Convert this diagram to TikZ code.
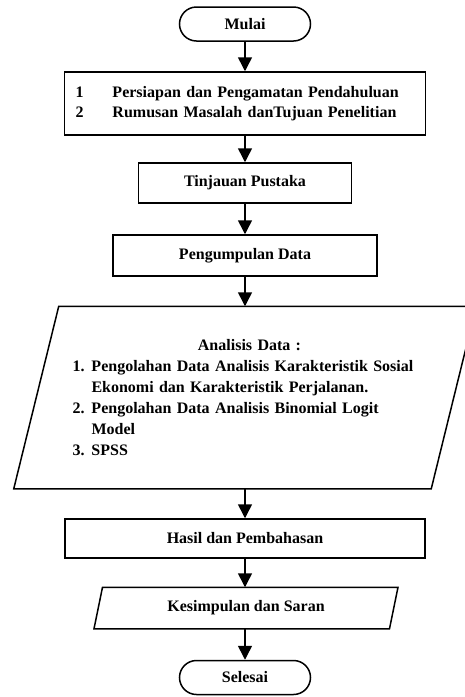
\documentclass[tikz,border=0pt]{standalone}
\usepackage{fontspec}
\setmainfont{Liberation Serif}
\usetikzlibrary{arrows.meta}
\usetikzlibrary{shapes.geometric}
\usetikzlibrary{positioning}
\tikzset{box/.style={draw=black,line width=1.5pt,font=\fontsize{16}{20.5}\selectfont\bfseries}}
\tikzset{proc/.style={box,rectangle,inner sep=0pt}}
\tikzset{term/.style={box,rectangle,rounded corners=17pt,minimum width=131pt,minimum height=34pt}}
\tikzset{io/.style={box,draw=none,rectangle,inner sep=0pt}}
\tikzset{arrow/.style={line width=1.5pt,-{Triangle[length=14pt,width=14pt]}}}
\newcommand{\itm}[1]{\noindent\makebox[19pt][l]{#1}}
\newcommand{\cnt}{\noindent\hspace*{19pt}}
\newcommand{\pgram}[2]{
    \draw[line width=1.5pt] ([xshift=#2]#1.north west) -- ([xshift=#2]#1.north east)
        -- ([xshift=-#2]#1.south east) -- ([xshift=-#2]#1.south west) -- cycle;
}

\begin{document}
\begin{tikzpicture}[x=1pt,y=-1pt]
        \useasboundingbox (0,0) rectangle (465,697);

        \node[term] (mli) at (245,24) {Mulai};
        \node[proc,minimum width=361pt,minimum height=63pt,text width=339pt,align=left] (prs) at (245,103.5)
            {\makebox[37pt][l]{1}Persiapan dan Pengamatan Pendahuluan\\
            \makebox[37pt][l]{2}Rumusan Masalah danTujuan Penelitian};
        \node[proc,minimum width=213pt,minimum height=40pt] (tjp) at (245,183) {Tinjauan Pustaka};
        \node[proc,minimum width=264pt,minimum height=41pt] (pgd) at (245,255.5) {Pengumpulan Data};
        \node[io,minimum width=416pt,minimum height=181pt,text width=345pt,align=left,
            font=\fontsize{16}{21}\selectfont\bfseries] (ans) at (245,397.5)
            {\noindent\makebox[\linewidth]{\hspace{9pt}Analisis Data :}\par
            \itm{1.}Pengolahan Data Analisis Karakteristik Sosial\par
            \cnt Ekonomi dan Karakteristik Perjalanan.\par
            \itm{2.}Pengolahan Data Analisis Binomial Logit\par
            \cnt Model\par
            \itm{3.}SPSS\par\vspace{8pt}};
        \pgram{ans}{22.5pt}
        \node[proc,minimum width=360pt,minimum height=39pt] (hsp) at (245,538.5) {Hasil dan Pembahasan};
        \node[io,minimum width=294pt,minimum height=40pt] (kds) at (246,608) {Kesimpulan dan Saran};
        \pgram{kds}{4.25pt}
        \node[term] (sls) at (245,677.5) {Selesai};

        \draw[arrow] (mli) -- (prs);
        \draw[arrow] (prs) -- (tjp);
        \draw[arrow] (tjp) -- (pgd);
        \draw[arrow] (pgd) -- (ans);
        \draw[arrow] (ans) -- (hsp);
        \draw[arrow] (hsp) -- (kds.north -| hsp);
        \draw[arrow] (kds.south -| sls) -- (sls);
    \end{tikzpicture}
\end{document}
